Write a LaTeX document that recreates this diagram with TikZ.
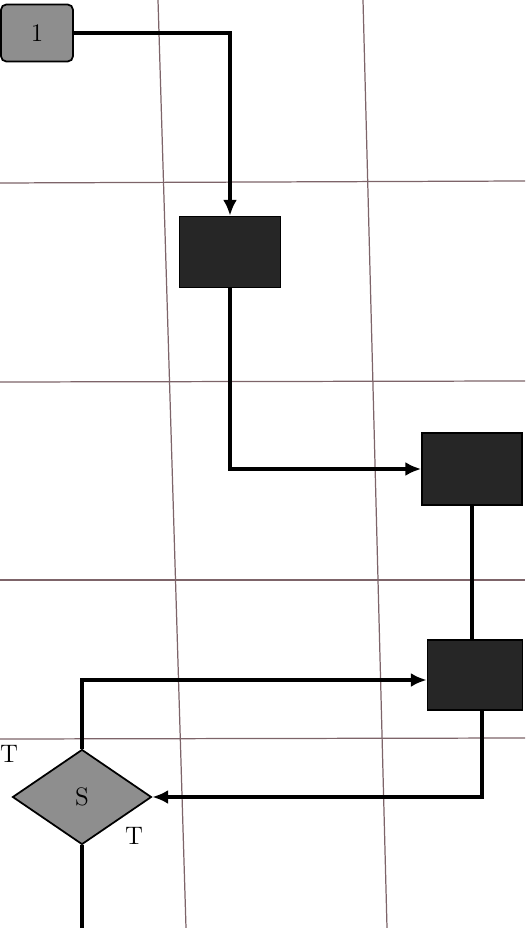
\documentclass[tikz,border=0pt]{standalone}
\usetikzlibrary{positioning, arrows.meta, shapes.geometric}
\definecolor{gridline}{RGB}{125,100,105}
\definecolor{darkbox}{RGB}{38,38,38}
\definecolor{greybox}{RGB}{142,142,142}

\begin{document}
\begin{tikzpicture}[x=0.02cm, y=-0.02cm, every node/.style={font=\Large},
  flow/.style={line width=1.8pt, -{Latex[length=9pt,width=8pt]}},
  link/.style={line width=1.8pt},
  darkstep/.style={draw, line width=1pt, fill=darkbox, inner sep=0pt},
  greystep/.style={draw, line width=1pt, fill=greybox, inner sep=0pt}]
\useasboundingbox (0,0) rectangle (525,928);

% ---- sheet grid ----
\draw[gridline, line width=0.7pt] (158,0) -- (186,928);
\draw[gridline, line width=0.7pt] (363,0) -- (387,928);
\foreach \y/\z in {183/181, 382/381, 580/580, 739/738} {
  \draw[gridline, line width=0.7pt] (0,\y) -- (525,\z);
}

% ---- steps ----
\node[greystep, rounded corners=3pt, minimum width=1.44cm, minimum height=1.14cm] (one) at (37,33) {1};
\node[darkstep, minimum width=2.02cm, minimum height=1.42cm] (vbox) at (230,252) {};
\node[darkstep, minimum width=2cm, minimum height=1.44cm] (box3) at (472,469) {};
\node[darkstep, minimum width=1.9cm, minimum height=1.4cm] (box4) at (475,675) {};
\node[greystep, diamond, minimum width=2.78cm, minimum height=1.9cm] (sdia) at (82,797) {S};
\node (ttop) at (9,754) {T};
\node (tbot) at (134,836) {T};
\coordinate (exit) at (87,928);

% ---- connectors ----
\draw[flow] (one.east) -| (vbox.north);
\draw[flow] (vbox.south) |- (box3.west);
\draw[link] (box3.south) -- (box3.south |- box4.north);
\draw[flow] ([xshift=0.14cm]box4.south) |- (sdia.east);
\draw[flow] (sdia.north) |- ([yshift=-0.1cm]box4.west);
\draw[link] (sdia.south) -- (sdia.south |- exit);
\end{tikzpicture}
\end{document}
